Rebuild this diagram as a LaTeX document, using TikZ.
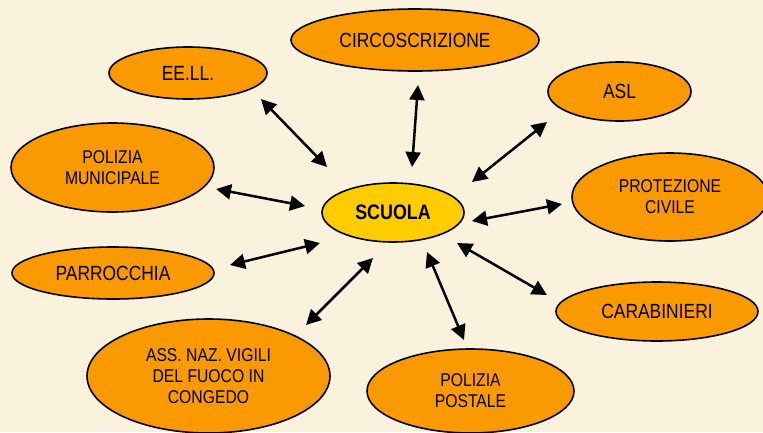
\documentclass[tikz,border=0pt]{standalone}
\usepackage{fontspec}
\setmainfont[FakeStretch=0.85]{Liberation Sans}
\usetikzlibrary{shapes.geometric,arrows.meta}
\definecolor{bgcol}{RGB}{251,242,222}
\definecolor{orangefill}{RGB}{250,153,0}
\definecolor{yellowfill}{RGB}{255,204,0}
\tikzset{
  oval/.style={ellipse, draw=black, line width=1.6pt, fill=orangefill, inner sep=0pt, align=center, text=black},
  bigtxt/.style={font=\fontsize{20.5}{22}\selectfont},
  smalltxt/.style={font=\fontsize{18.5}{21}\selectfont},
  link/.style={{Triangle[length=15pt,width=15pt]}-{Triangle[length=15pt,width=15pt]}, line width=2.5pt, black}
}
\begin{document}
\begin{tikzpicture}[x=1pt,y=-1pt]
\fill[bgcol] (0,0) rectangle (763,432);
\useasboundingbox (0,0) rectangle (763,432);
% nodes
\node[oval, bigtxt, minimum width=248pt, minimum height=62pt] (circ) at (415,40) {CIRCOSCRIZIONE};
\node[oval, bigtxt, minimum width=158pt, minimum height=52pt] (eell) at (188,73) {EE.LL.};
\node[oval, bigtxt, minimum width=143pt, minimum height=59pt] (asl) at (619.5,91.5) {ASL};
\node[oval, smalltxt, minimum width=203pt, minimum height=89pt] (polmun) at (112.5,167.5) {POLIZIA\\MUNICIPALE};
\node[oval, fill=yellowfill, font=\fontsize{21}{22}\selectfont\bfseries, minimum width=142pt, minimum height=59pt] (scuola) at (393,212.5) {SCUOLA};
\node[oval, smalltxt, minimum width=196pt, minimum height=88pt] (prot) at (670,197) {PROTEZIONE\\CIVILE};
\node[oval, bigtxt, minimum width=202pt, minimum height=52pt] (parr) at (113,273) {PARROCCHIA};
\node[oval, bigtxt, minimum width=202pt, minimum height=59pt] (carab) at (657,311.5) {CARABINIERI};
\node[oval, smalltxt, minimum width=243pt, minimum height=114pt] (assnaz) at (208.5,376) {ASS. NAZ. VIGILI\\DEL FUOCO IN\\CONGEDO};
\node[oval, smalltxt, minimum width=207pt, minimum height=84pt] (polpost) at (470.5,391) {POLIZIA\\POSTALE};
% arrow end points
\coordinate (e1a) at (261,99);  \coordinate (e1b) at (327,167);
\coordinate (e2a) at (418,85);  \coordinate (e2b) at (412,167);
\coordinate (e3a) at (547,122); \coordinate (e3b) at (472,182);
\coordinate (e4a) at (562,204); \coordinate (e4b) at (472,221);
\coordinate (e5a) at (457,243); \coordinate (e5b) at (547,295);
\coordinate (e6a) at (427,252); \coordinate (e6b) at (464,340);
\coordinate (e7a) at (373,258); \coordinate (e7b) at (306,325);
\coordinate (e8a) at (320,243); \coordinate (e8b) at (230,265);
\coordinate (e9a) at (305,206); \coordinate (e9b) at (216,189);
\draw[link] (e1a) -- (e1b);
\draw[link] (e2a) -- (e2b);
\draw[link] (e3a) -- (e3b);
\draw[link] (e4a) -- (e4b);
\draw[link] (e5a) -- (e5b);
\draw[link] (e6a) -- (e6b);
\draw[link] (e7a) -- (e7b);
\draw[link] (e8a) -- (e8b);
\draw[link] (e9a) -- (e9b);
\end{tikzpicture}
\end{document}
